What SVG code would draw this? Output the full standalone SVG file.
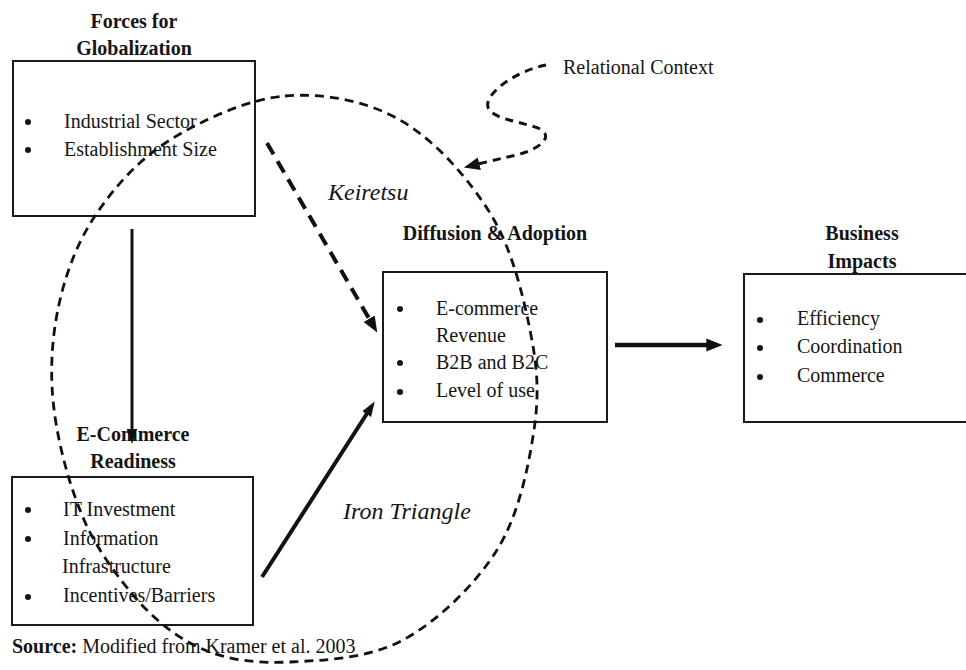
<svg xmlns="http://www.w3.org/2000/svg" width="966" height="670" viewBox="0 0 966 670">
<style>
  text { font-family: "Liberation Serif", "Times New Roman", serif; font-size: 20px; fill: #151515; }
  .title { font-weight: bold; text-anchor: middle; }
  .ital { font-style: italic; font-size: 24px; }
  .box { fill: none; stroke: #1a1a1a; stroke-width: 2; }
  .bul { fill: #151515; }
  .solid { fill: none; stroke: #111; }
  .dash { fill: none; stroke: #111; stroke-linecap: butt; }
</style>
<defs>
  <marker id="head" viewBox="0 0 10 10" refX="6" refY="5" markerWidth="16" markerHeight="16" markerUnits="userSpaceOnUse" orient="auto">
    <path d="M0,1 L10,5 L0,9 z" fill="#111"/>
  </marker>
  <marker id="headS" viewBox="0 0 10 10" refX="6" refY="5" markerWidth="15" markerHeight="15" markerUnits="userSpaceOnUse" orient="auto">
    <path d="M0,1.5 L10,5 L0,8.5 z" fill="#111"/>
  </marker>
</defs>

<g id="forces">
  <text class="title" x="134" y="28">Forces for</text>
  <text class="title" x="134" y="55">Globalization</text>
  <rect class="box" x="13" y="61" width="242" height="155"/>
  <circle class="bul" cx="28" cy="122" r="3"/>
  <text x="64" y="128">Industrial Sector</text>
  <circle class="bul" cx="28" cy="150" r="3"/>
  <text x="64" y="156">Establishment Size</text>
</g>

<g id="diffusion">
  <text class="title" x="495" y="240">Diffusion &amp; Adoption</text>
  <rect class="box" x="383" y="272" width="224" height="150"/>
  <circle class="bul" cx="400" cy="309" r="3"/>
  <text x="436" y="315">E-commerce</text>
  <text x="436" y="342">Revenue</text>
  <circle class="bul" cx="400" cy="363" r="3"/>
  <text x="436" y="369">B2B and B2C</text>
  <circle class="bul" cx="400" cy="392" r="3"/>
  <text x="436" y="397">Level of use</text>
</g>

<g id="business">
  <text class="title" x="862" y="240">Business</text>
  <text class="title" x="862" y="268">Impacts</text>
  <rect class="box" x="744" y="274" width="230" height="148"/>
  <circle class="bul" cx="760" cy="320" r="3"/>
  <text x="797" y="325">Efficiency</text>
  <circle class="bul" cx="760" cy="348" r="3"/>
  <text x="797" y="353">Coordination</text>
  <circle class="bul" cx="760" cy="377" r="3"/>
  <text x="797" y="382">Commerce</text>
</g>

<g id="readiness">
  <text class="title" x="133" y="441">E-Commerce</text>
  <text class="title" x="133" y="468">Readiness</text>
  <rect class="box" x="12" y="477" width="241" height="148"/>
  <circle class="bul" cx="28" cy="510" r="3"/>
  <text x="63" y="516">IT Investment</text>
  <circle class="bul" cx="28" cy="539" r="3"/>
  <text x="63" y="545">Information</text>
  <text x="62" y="573">Infrastructure</text>
  <circle class="bul" cx="28" cy="597" r="3"/>
  <text x="63" y="602">Incentives/Barriers</text>
</g>

<g id="labels">
  <text class="ital" x="328" y="200">Keiretsu</text>
  <text class="ital" x="343" y="519">Iron Triangle</text>
  <text x="563" y="74">Relational Context</text>
  <text x="12" y="653"><tspan font-weight="bold">Source:</tspan> Modified from Kramer et al. 2003</text>
</g>

<g id="connectors">
  <path class="dash" stroke-width="2.8" stroke-dasharray="9 6"
    d="M 285 96 C 323.3 92.7, 365.8 100.5, 400 120 C 434.2 139.5, 468.3 178, 490 213 C 511.7 248, 522.7 293.8, 530 330 C 537.3 366.2, 539.5 393.3, 534 430 C 528.5 466.7, 518.8 515, 497 550 C 475.2 585, 437.5 621.3, 403 640 C 368.5 658.7, 323.3 660.3, 290 662 C 256.7 663.7, 226 660, 200 648 C 176 637, 158 622, 140 603 C 118 578, 93 545, 80 510 C 66.7 477.2, 56.3 435, 53 400 C 49.7 365, 52.7 331.2, 60 300 C 67.3 268.8, 78.7 239.7, 97 213 C 115.3 186.3, 138.7 159.5, 170 140 C 201.3 120.5, 246.7 99.3, 285 96 Z"/>
  <line class="solid" x1="132" y1="229" x2="132" y2="438" stroke-width="3" marker-end="url(#headS)"/>
  <line class="solid" x1="262" y1="577" x2="371.5" y2="406.5" stroke-width="4" marker-end="url(#headS)"/>
  <line class="dash" x1="267" y1="143" x2="374" y2="327" stroke-width="4" stroke-dasharray="13 8" marker-end="url(#head)"/>
  <line class="solid" x1="615" y1="345" x2="716" y2="345" stroke-width="4.5" marker-end="url(#head)"/>
  <path class="dash" stroke-width="3" stroke-dasharray="8 6" marker-end="url(#head)"
    d="M 546 65 C 520 70, 492 88, 488 102 C 484 118, 515 120, 538 128 C 556 136, 540 150, 512 156 C 495 160, 482 163, 470 166"/>
</g>
</svg>
